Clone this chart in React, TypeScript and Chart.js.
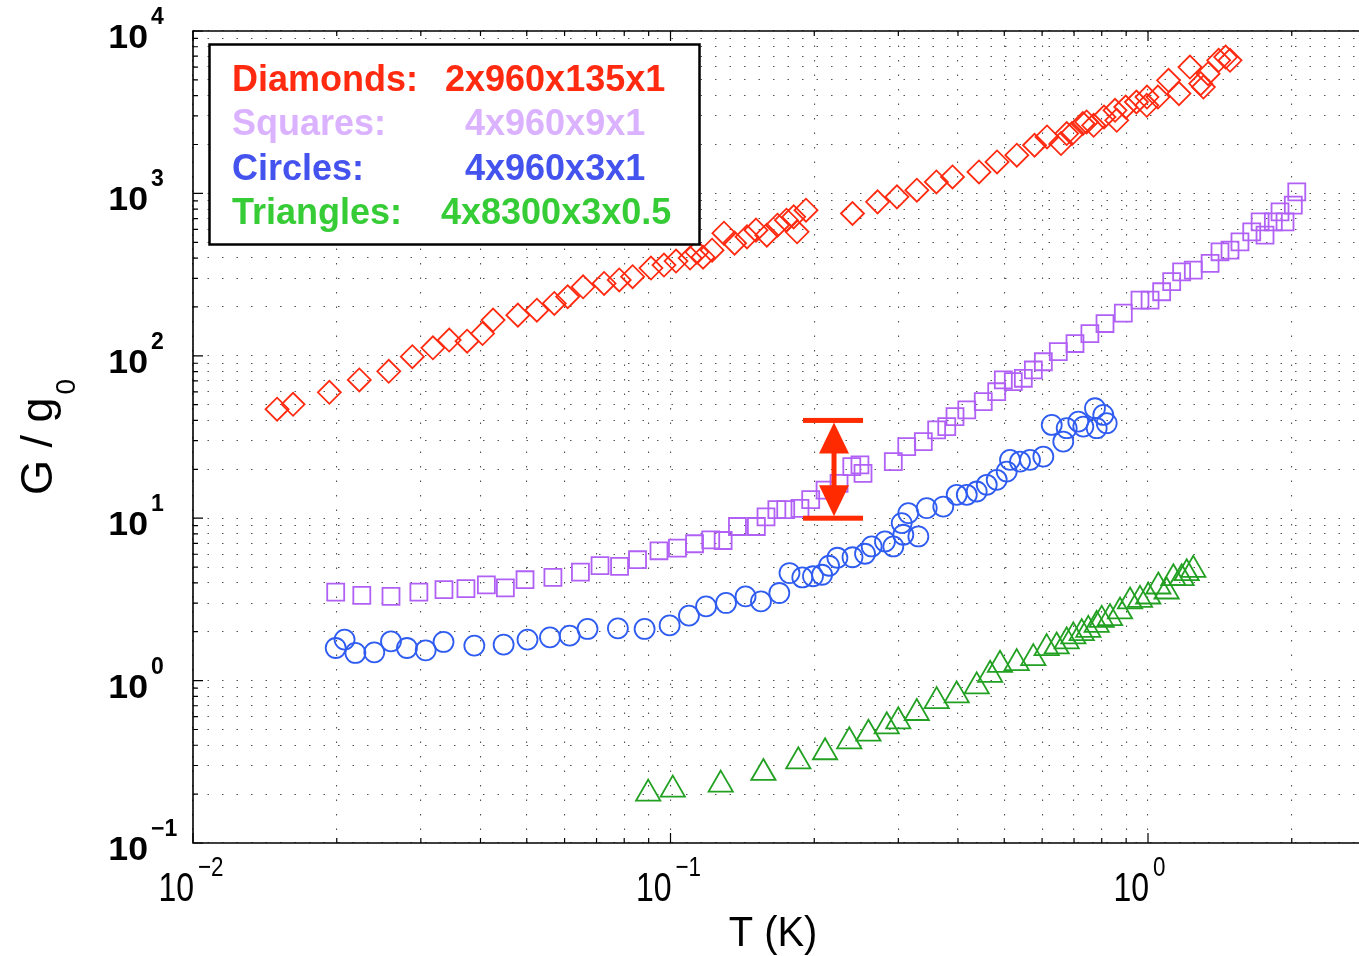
import React, { useEffect, useRef } from "react";
import { Chart, registerables } from "chart.js";

Chart.register(...registerables);

// ---------------- data ----------------
const diamondT = [0.0150, 0.0162, 0.0193, 0.0223, 0.0257, 0.0288, 0.0318, 0.0344, 0.0375, 0.0404, 0.0425, 0.0479, 0.0525, 0.0571, 0.0609, 0.0656, 0.0726, 0.0781, 0.0833, 0.091, 0.0969, 0.1027, 0.1099, 0.117, 0.1136, 0.1222, 0.1294, 0.1362, 0.1446, 0.151, 0.1591, 0.1675, 0.1749, 0.1811, 0.1841, 0.1922, 0.2405, 0.2714, 0.298, 0.328, 0.3604, 0.3896, 0.4426, 0.4829, 0.5312, 0.5786, 0.6144, 0.6573, 0.6756, 0.6931, 0.7303, 0.7437, 0.7693, 0.8088, 0.8529, 0.860, 0.8982, 0.9456, 0.994, 0.995, 1.049, 1.104, 1.161, 1.224, 1.289, 1.306, 1.336, 1.406, 1.454, 1.485];
const diamondG = [46.9, 50.3, 59.6, 71.0, 80.3, 98.7, 112, 125, 123, 137, 166, 178, 191, 210, 231, 266, 279, 293, 307, 347, 362, 383, 400, 405, 435, 447, 569, 494, 540, 594, 553, 637, 684, 717, 580, 788, 752, 887, 952, 1046, 1177, 1263, 1356, 1562, 1718, 1979, 2226, 2027, 2336, 2336, 2691, 2753, 2627, 2954, 3249, 2820, 3404, 3654, 3486, 3922, 3922, 4968, 4116, 5998, 4742, 4519, 5457, 6596, 6912, 6596];

const squareT = [0.0199, 0.02257, 0.02598, 0.02972, 0.03354, 0.03729, 0.04115, 0.0451, 0.04958, 0.05672, 0.06477, 0.07119, 0.07822, 0.0853, 0.0946, 0.1034, 0.1123, 0.1214, 0.1289, 0.1381, 0.1513, 0.1585, 0.167, 0.1743, 0.1867, 0.1966, 0.2107, 0.2254, 0.2397, 0.2493, 0.253, 0.2928, 0.3124, 0.3384, 0.3609, 0.3789, 0.3943, 0.4173, 0.4518, 0.4821, 0.4977, 0.5222, 0.5481, 0.5753, 0.6036, 0.6488, 0.7032, 0.7556, 0.8127, 0.8877, 0.962, 1.010, 1.068, 1.121, 1.176, 1.244, 1.349, 1.415, 1.485, 1.558, 1.649, 1.717, 1.758, 1.830, 1.890, 1.936, 2.015, 2.049];
const squareG = [3.51, 3.35, 3.30, 3.51, 3.63, 3.68, 3.89, 3.72, 4.18, 4.32, 4.66, 5.10, 5.05, 5.55, 6.30, 6.55, 6.96, 7.36, 7.29, 8.89, 8.89, 10.2, 11.3, 11.3, 11.5, 13.0, 14.9, 16.4, 20.8, 21.3, 18.9, 22.3, 27.6, 29.6, 35.0, 36.6, 42.2, 46.4, 52.2, 60.1, 71.0, 69.3, 72.7, 81.8, 91.9, 106, 119, 137, 158, 183, 220, 220, 248, 286, 329, 337, 371, 437, 447, 503, 580, 668, 553, 668, 769, 668, 846, 1021];

const circleT = [0.0199, 0.02077, 0.02188, 0.02397, 0.02598, 0.02806, 0.03071, 0.03347, 0.03883, 0.04472, 0.05018, 0.05592, 0.06148, 0.06702, 0.07759, 0.08826, 0.09957, 0.1093, 0.1187, 0.1307, 0.1436, 0.1547, 0.169, 0.1775, 0.1888, 0.1988, 0.2077, 0.2148, 0.2236, 0.2405, 0.2555, 0.2638, 0.2813, 0.2928, 0.3049, 0.3073, 0.3148, 0.3304, 0.344, 0.3726, 0.3975, 0.4173, 0.4378, 0.4595, 0.4821, 0.5059, 0.514, 0.5394, 0.5661, 0.6036, 0.6286, 0.6646, 0.6756, 0.7145, 0.732, 0.7744, 0.7808, 0.806, 0.8194];
const circleG = [1.588, 1.788, 1.48, 1.493, 1.745, 1.588, 1.536, 1.73, 1.642, 1.665, 1.788, 1.846, 1.891, 2.08, 2.097, 2.08, 2.188, 2.511, 2.864, 3.006, 3.3, 3.074, 3.462, 4.596, 4.318, 4.392, 4.486, 5.097, 5.707, 5.748, 6.04, 6.7, 7.19, 6.7, 9.33, 7.91, 10.75, 7.72, 11.53, 11.8, 13.93, 13.93, 14.6, 16.05, 17.23, 19.38, 22.87, 22.32, 22.87, 23.96, 37.53, 29.64, 35.82, 39.33, 36.64, 47.54, 35.82, 43.24, 38.45];

const triangleT = [0.0898, 0.1011, 0.1274, 0.1565, 0.1852, 0.2107, 0.2368, 0.2597, 0.2837, 0.2999, 0.3279, 0.3609, 0.3975, 0.4378, 0.467, 0.4898, 0.5309, 0.5752, 0.6134, 0.6437, 0.6756, 0.6976, 0.7264, 0.7499, 0.7808, 0.8, 0.8327, 0.8738, 0.917, 0.9621, 1.001, 1.051, 1.094, 1.13, 1.176, 1.205, 1.244];
const triangleG = [0.2013, 0.2132, 0.2287, 0.270, 0.3185, 0.362, 0.4229, 0.471, 0.523, 0.5614, 0.6316, 0.748, 0.811, 0.9215, 1.086, 1.251, 1.281, 1.376, 1.585, 1.623, 1.743, 1.871, 1.96, 2.054, 2.205, 2.367, 2.424, 2.666, 3.071, 3.142, 3.296, 3.798, 3.538, 4.271, 4.271, 4.586, 4.805];

const legendNames = ["Diamonds:", "Squares:", "Circles:", "Triangles:"];
const legendSpecs = ["2x960x135x1", "4x960x9x1", "4x960x3x1", "4x8300x3x0.5"];
const legendColors = ["#ff2a10", "#dab2ff", "#4452ee", "#36cc36"];
const markerColors = ["#ff2a10", "#b060f5", "#2f5cf0", "#22a022"];

const xTickExps = [-2, -1, 0];
const yTickExps = [-1, 0, 1, 2, 3, 4];
const xLimits = [0.01, 2.766];
const yLimits = [0.1, 10000];
const xTitle = "T (K)";
const yTitleMain = "G / g";
const yTitleSub = "0";

const arrowT = 0.22;
const arrowG = [10, 40];

// ---------------- helpers ----------------
function logTicks(min: number, max: number) {
  const out: { value: number; major: boolean }[] = [];
  const e0 = Math.floor(Math.log10(min));
  const e1 = Math.ceil(Math.log10(max));
  for (let e = e0; e <= e1; e++) {
    for (let m = 1; m <= 9; m++) {
      const v = Number((m * Math.pow(10, e)).toPrecision(6));
      if (v >= min * (1 - 1e-9) && v <= max * (1 + 1e-9)) out.push({ value: v, major: m === 1 });
    }
  }
  return out;
}

function expText(e: number) {
  return e < 0 ? "\u2212" + Math.abs(e) : String(e);
}

function txt(ctx: CanvasRenderingContext2D, s: string, x: number, y: number, font: string, color: string, align: CanvasTextAlign, sx = 1) {
  ctx.save();
  ctx.translate(x, y);
  ctx.scale(sx, 1);
  ctx.font = font;
  ctx.fillStyle = color;
  ctx.textAlign = align;
  ctx.textBaseline = "alphabetic";
  ctx.fillText(s, 0, 0);
  ctx.restore();
}

const decorPlugin = {
  id: "decor",
  afterDraw(chart: any) {
    const ctx: CanvasRenderingContext2D = chart.ctx;
    const xs = chart.scales.x;
    const ys = chart.scales.y;
    const a = chart.chartArea;
    ctx.save();

    // frame
    ctx.strokeStyle = "#000";
    ctx.lineWidth = 1.6;
    ctx.beginPath();
    ctx.moveTo(a.right, a.top);
    ctx.lineTo(a.left, a.top);
    ctx.lineTo(a.left, a.bottom);
    ctx.lineTo(a.right, a.bottom);
    ctx.stroke();

    // tick marks (inside)
    ctx.lineWidth = 1.2;
    ctx.beginPath();
    for (const t of logTicks(xLimits[0], xLimits[1])) {
      const px = xs.getPixelForValue(t.value);
      const len = t.major ? 10 : 5;
      ctx.moveTo(px, a.bottom);
      ctx.lineTo(px, a.bottom - len);
      ctx.moveTo(px, a.top);
      ctx.lineTo(px, a.top + len);
    }
    for (const t of logTicks(yLimits[0], yLimits[1])) {
      const py = ys.getPixelForValue(t.value);
      const len = t.major ? 10 : 5;
      ctx.moveTo(a.left, py);
      ctx.lineTo(a.left + len, py);
    }
    ctx.stroke();

    // y tick labels
    for (const e of yTickExps) {
      const py = ys.getPixelForValue(Math.pow(10, e));
      txt(ctx, "10", 148, py + 17, 'bold 33px "Liberation Sans"', "#000", "right", 1.08);
      txt(ctx, expText(e), 151, py - 7, 'bold 23px "Liberation Sans"', "#000", "left", 1.0);
    }
    // x tick labels
    for (const e of xTickExps) {
      const px = xs.getPixelForValue(Math.pow(10, e));
      txt(ctx, "10", px + 1, 901, '40px "Liberation Sans"', "#000", "right", 0.8);
      txt(ctx, expText(e), px + 5, 876, '28px "Liberation Sans"', "#000", "left", 0.8);
    }

    // x title
    txt(ctx, xTitle, 773, 946, '42px "Liberation Sans"', "#000", "center", 0.95);

    // y title (rotated)
    ctx.save();
    ctx.translate(52, 495);
    ctx.rotate(-Math.PI / 2);
    ctx.font = '45px "Liberation Sans"';
    ctx.fillStyle = "#000";
    ctx.textAlign = "left";
    ctx.textBaseline = "alphabetic";
    ctx.fillText(yTitleMain, 0, 0);
    const w = ctx.measureText(yTitleMain).width;
    ctx.font = '28px "Liberation Sans"';
    ctx.fillText(yTitleSub, w + 3, 23);
    ctx.restore();

    // legend box
    ctx.fillStyle = "#fff";
    ctx.fillRect(209, 44, 491, 201);
    ctx.strokeStyle = "#000";
    ctx.lineWidth = 2.5;
    ctx.strokeRect(209.5, 44.5, 490, 200);
    const baselines = [91, 135, 180, 224];
    const specX = [445, 465, 465, 441];
    for (let i = 0; i < legendNames.length; i++) {
      txt(ctx, legendNames[i], 232, baselines[i], 'bold 36px "Liberation Sans"', legendColors[i], "left");
      txt(ctx, legendSpecs[i], specX[i], baselines[i], 'bold 36px "Liberation Sans"', legendColors[i], "left");
    }

    // red double arrow
    const ax = xs.getPixelForValue(arrowT);
    const yTop = ys.getPixelForValue(arrowG[1]);
    const yBot = ys.getPixelForValue(arrowG[0]);
    ctx.fillStyle = "#ff2a00";
    ctx.strokeStyle = "#ff2a00";
    ctx.fillRect(ax - 31, yTop - 2.5, 60, 5);
    ctx.fillRect(ax - 31, yBot - 2.5, 60, 5);
    ctx.lineWidth = 5;
    ctx.beginPath();
    ctx.moveTo(ax, yTop + 20);
    ctx.lineTo(ax, yBot - 20);
    ctx.stroke();
    ctx.beginPath();
    ctx.moveTo(ax, yTop + 2);
    ctx.lineTo(ax + 15, yTop + 33);
    ctx.lineTo(ax - 15, yTop + 33);
    ctx.closePath();
    ctx.fill();
    ctx.beginPath();
    ctx.moveTo(ax, yBot - 2);
    ctx.lineTo(ax + 15, yBot - 33);
    ctx.lineTo(ax - 15, yBot - 33);
    ctx.closePath();
    ctx.fill();

    ctx.restore();
  },
};

function pts(t: number[], g: number[]) {
  return t.map((v, i) => ({ x: v, y: g[i] }));
}

export default function App() {
  const ref = useRef<HTMLCanvasElement | null>(null);
  useEffect(() => {
    if (!ref.current) return;
    const mk = (label: string, t: number[], g: number[], color: string, style: any, r: number) => ({
      label,
      data: pts(t, g),
      showLine: false,
      pointStyle: style,
      pointRadius: r,
      pointHoverRadius: r,
      pointBorderWidth: 1.8,
      borderColor: color,
      backgroundColor: "rgba(0,0,0,0)",
      pointBackgroundColor: "rgba(0,0,0,0)",
      pointBorderColor: color,
    });
    const gridOpts = {
      display: true,
      drawTicks: false,
      color: "rgba(40,40,40,0.8)",
      lineWidth: 1.1,
    };
    const chart = new Chart(ref.current, {
      type: "scatter",
      data: {
        datasets: [
          mk(legendNames[0], diamondT, diamondG, markerColors[0], "rectRot", 11.5),
          mk(legendNames[1], squareT, squareG, markerColors[1], "rect", 12),
          mk(legendNames[2], circleT, circleG, markerColors[2], "circle", 10),
          mk(legendNames[3], triangleT, triangleG, markerColors[3], "triangle", 14),
        ],
      },
      options: {
        animation: false,
        responsive: false,
        devicePixelRatio: 1,
        layout: { autoPadding: false, padding: { left: 193, top: 31, right: 0, bottom: 113 } },
        plugins: { legend: { display: false }, tooltip: { enabled: false }, title: { display: false } },
        events: [],
        scales: {
          x: {
            type: "logarithmic",
            min: xLimits[0],
            max: xLimits[1],
            afterBuildTicks: (s: any) => { s.ticks = logTicks(xLimits[0], xLimits[1]); },
            ticks: { display: false },
            grid: gridOpts,
            border: { display: false, dash: [1.5, 13] },
            title: { display: false },
          },
          y: {
            type: "logarithmic",
            min: yLimits[0],
            max: yLimits[1],
            afterBuildTicks: (s: any) => { s.ticks = logTicks(yLimits[0], yLimits[1]); },
            ticks: { display: false },
            grid: gridOpts,
            border: { display: false, dash: [1.5, 13] },
            title: { display: false },
          },
        },
      } as any,
      plugins: [decorPlugin],
    });
    return () => chart.destroy();
  }, []);
  return (
    <div style={{ position: "fixed", left: 0, top: 0, width: 1359, height: 956, background: "#fff", overflow: "hidden" }}>
      <canvas ref={ref} width={1359} height={956} style={{ display: "block", width: 1359, height: 956 }} />
    </div>
  );
}
